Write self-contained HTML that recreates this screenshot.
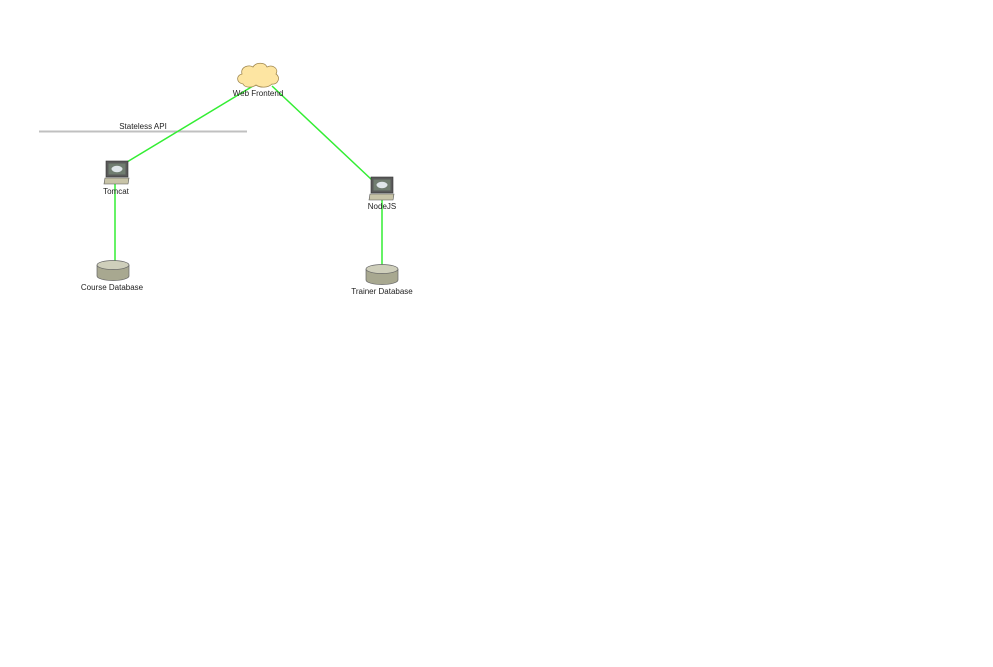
<!DOCTYPE html>
<html><head><style>
html,body{margin:0;padding:0;background:#fff;}
svg text{font-family:"Liberation Sans",sans-serif;font-size:8px;fill:#222;}
</style></head><body>
<svg width="993" height="662" viewBox="0 0 993 662" xmlns="http://www.w3.org/2000/svg">
<rect width="993" height="662" fill="#fff"/>
<!-- Stateless API bar -->
<line x1="39" y1="131.5" x2="247" y2="131.5" stroke="#c0c0c0" stroke-width="2"/>
<text x="143" y="129" text-anchor="middle">Stateless API</text>
<!-- connectors -->
<g stroke="#33ee33" stroke-width="1.5" fill="none">
<line x1="253" y1="86" x2="127" y2="162"/>
<line x1="272" y1="86" x2="372" y2="180"/>
<line x1="115" y1="184" x2="115" y2="261"/>
<line x1="382" y1="198" x2="382" y2="266"/>
</g>
<!-- cloud -->
<path d="M243,84 C236,83 236,75 242,74 C240,67 249,64 253,67 C256,62 265,62 267,67 C273,64 279,69 276,74 C281,77 278,85 272,84 C268,88 260,88 256,85 C252,88 245,88 243,84 Z" fill="#fde5a2" stroke="#a08850" stroke-width="0.8"/>
<text x="258" y="96" text-anchor="middle">Web Frontend</text>
<!-- Tomcat computer -->
<g transform="translate(104,161)">
<rect x="2" y="0" width="22" height="16" fill="#5a5a5a" stroke="#333" stroke-width="0.6"/>
<rect x="4.5" y="2.5" width="17" height="11" fill="#707d70"/>
<ellipse cx="13" cy="8" rx="5.5" ry="3.2" fill="#dfe6ea"/>
<path d="M1,17 L25,17 L24,23 L0,23 Z" fill="#c8c4a8" stroke="#555" stroke-width="0.6"/>
</g>
<text x="116" y="194" text-anchor="middle">Tomcat</text>
<!-- NodeJS computer -->
<g transform="translate(369,177)">
<rect x="2" y="0" width="22" height="16" fill="#5a5a5a" stroke="#333" stroke-width="0.6"/>
<rect x="4.5" y="2.5" width="17" height="11" fill="#707d70"/>
<ellipse cx="13" cy="8" rx="5.5" ry="3.2" fill="#dfe6ea"/>
<path d="M1,17 L25,17 L24,23 L0,23 Z" fill="#c8c4a8" stroke="#555" stroke-width="0.6"/>
</g>
<text x="382" y="209" text-anchor="middle">NodeJS</text>
<!-- Course DB -->
<g transform="translate(97,260)">
<path d="M0,5 L0,16 A16,4.5 0 0 0 32,16 L32,5" fill="#a8a890" stroke="#666" stroke-width="0.7"/>
<ellipse cx="16" cy="5" rx="16" ry="4.5" fill="#cfcfbb" stroke="#666" stroke-width="0.7"/>
</g>
<text x="112" y="290" text-anchor="middle">Course Database</text>
<!-- Trainer DB -->
<g transform="translate(366,264)">
<path d="M0,5 L0,16 A16,4.5 0 0 0 32,16 L32,5" fill="#a8a890" stroke="#666" stroke-width="0.7"/>
<ellipse cx="16" cy="5" rx="16" ry="4.5" fill="#cfcfbb" stroke="#666" stroke-width="0.7"/>
</g>
<text x="382" y="294" text-anchor="middle">Trainer Database</text>
</svg>
</body></html>
